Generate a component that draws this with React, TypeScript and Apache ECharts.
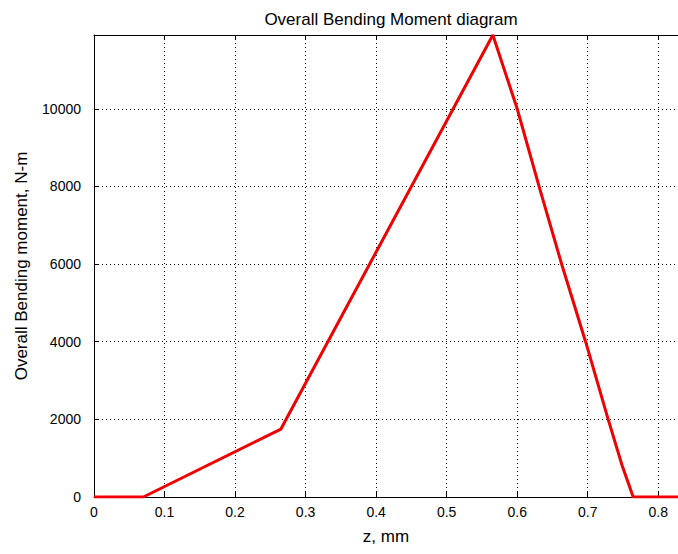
import React, { useEffect, useRef } from "react";
import * as echarts from "echarts";

const zValues = [0, 0.07, 0.265, 0.5655, 0.6, 0.631, 0.663, 0.697, 0.729, 0.749, 0.7645, 0.828];
const momentValues = [0, 0, 1750, 11900, 10000, 8000, 6000, 4000, 2000, 800, 0, 0];
const xTickStep = 0.1;
const yTickStep = 2000;

const FONT = "'Liberation Sans', Arial, Helvetica, sans-serif";

export default function App() {
  const ref = useRef<HTMLDivElement>(null);
  useEffect(() => {
    if (!ref.current) return;
    const chart = echarts.init(ref.current, undefined, { renderer: "svg" });
    const data = zValues.map((z, i) => [z, momentValues[i]]);
    const grid = { left: 94, top: 35, right: 0, bottom: 57 };
    const splitLine = { show: true, lineStyle: { color: "#000", width: 1, type: [1, 3] as any } };
    chart.setOption({
      animation: false,
      backgroundColor: "#fff",
      title: {
        text: "Overall Bending Moment diagram",
        left: 386,
        top: 6,
        textAlign: "center",
        textStyle: { fontFamily: FONT, fontSize: 17, fontWeight: "normal", color: "#000" },
      },
      grid,
      xAxis: [
        {
          type: "value",
          min: 0,
          max: 0.828,
          interval: xTickStep,
          name: "z, mm",
          nameLocation: "middle",
          nameGap: 31,
          nameTextStyle: { fontFamily: FONT, fontSize: 17, color: "#000" },
          axisLine: { show: true, onZero: false, lineStyle: { color: "#000", width: 1 } },
          axisTick: { show: true, inside: true, length: 5, lineStyle: { color: "#000" } },
          axisLabel: {
            fontFamily: FONT,
            fontSize: 14,
            color: "#000",
            margin: 8,
            showMaxLabel: false,
            formatter: (v: number) => String(+v.toFixed(1)),
          },
          splitLine,
        },
        {
          type: "value",
          position: "top",
          min: 0,
          max: 0.828,
          interval: xTickStep,
          axisLine: { show: true, onZero: false, lineStyle: { color: "#000", width: 1 } },
          axisTick: { show: true, inside: true, length: 5, lineStyle: { color: "#000" } },
          axisLabel: { show: false },
          splitLine: { show: false },
        },
      ],
      yAxis: {
        type: "value",
        min: 0,
        max: 11900,
        interval: yTickStep,
        name: "Overall Bending moment, N-m",
        nameLocation: "middle",
        nameGap: 64,
        nameTextStyle: { fontFamily: FONT, fontSize: 17, color: "#000" },
        axisLine: { show: true, onZero: false, lineStyle: { color: "#000", width: 1 } },
        axisTick: { show: true, inside: true, length: 5, lineStyle: { color: "#000" } },
        axisLabel: {
          fontFamily: FONT,
          fontSize: 14,
          color: "#000",
          margin: 13,
          showMaxLabel: false,
          formatter: (v: number) => String(v),
        },
        splitLine,
      },
      series: [
        {
          type: "line",
          data,
          xAxisIndex: 0,
          showSymbol: false,
          symbol: "none",
          lineStyle: { color: "#f00000", width: 3 },
          z: 5,
        },
      ],
    });
    return () => chart.dispose();
  }, []);
  return (
    <div
      ref={ref}
      style={{ position: "absolute", left: 0, top: 0, width: 678, height: 554 }}
    />
  );
}
